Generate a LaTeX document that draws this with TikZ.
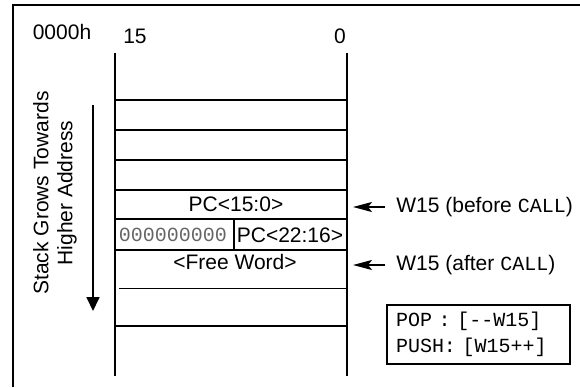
\documentclass[tikz,border=0pt]{standalone}
\usepackage{fontspec}
\setmainfont{Liberation Sans}
\setmonofont{Liberation Mono}
\usetikzlibrary{arrows.meta}
\definecolor{zerogray}{gray}{0.4}
\begin{document}
\begin{tikzpicture}[x=0.5pt,y=-0.5pt]
      \tikzstyle{every node} = [font=\fontsize{10.5}{12}\selectfont, inner sep=0pt]
      \tikzstyle{wall} = [line width=1pt]
      \tikzstyle{ptr} = [line width=1pt, -{Stealth[length=9.5pt,width=5pt,inset=2pt]}]
      \tikzstyle{grows} = [line width=0.9pt, -{Triangle[length=7pt,width=6.5pt]}]
      \tikzstyle{popbox} = [draw, line width=1pt, font=\ttfamily\fontsize{10}{13}\selectfont,
        align=left, text width=82.5pt, inner xsep=4.5pt, minimum height=29.5pt, anchor=north west]

      \useasboundingbox (0,0) rectangle (580,387);
      \draw[wall] (13,387) -- (13,5) -- (580,5);

      % stack words
      \draw[wall] (115,53) -- (115,376);
      \draw[wall] (347,53) -- (347,376);
      \foreach \y in {100,130,160,190,219,250,326}{
        \draw[wall] (115,\y) -- (347,\y);
      }
      \draw[line width=0.5pt] (119,288) -- (347,288);
      \draw[wall] (234,219) -- (234,250);

      \node(addr) at (62,32) {0000h};
      \node(msb) at (135,36) {15};
      \node(lsb) at (340,36) {0};

      \node(pclo) at (236,204) {PC<15:0>};
      \node[font=\ttfamily\fontsize{10}{12}\selectfont, text=zerogray](zeros) at (173,235) {000000000};
      \node(pchi) at (290,235) {PC<22:16>};
      \node(free) at (235,262) {<Free Word>};

      % growth direction
      \coordinate(gtop) at (93,105);
      \coordinate(gbot) at (93,311);
      \draw[grows] (gtop) -- (gbot);
      \node[rotate=90, align=center](dir) at (55,193) {Stack Grows Towards\\Higher Address};

      % stack pointer
      \coordinate(before) at (353,207);
      \coordinate(after) at (353,265);
      \node[anchor=west, inner xsep=5.5pt](wb) at (385,207) {W15 (before \texttt{\fontsize{10}{12}\selectfont CALL})};
      \node[anchor=west, inner xsep=5.5pt](wa) at (385,265) {W15 (after \texttt{\fontsize{10}{12}\selectfont CALL})};
      \path
      (wb) edge[ptr] (before)
      (wa) edge[ptr] (after);

      \node[popbox](ops) at (386,304) {POP~:~[-{}-W15]\\PUSH:~[W15++]};
    \end{tikzpicture}
\end{document}
